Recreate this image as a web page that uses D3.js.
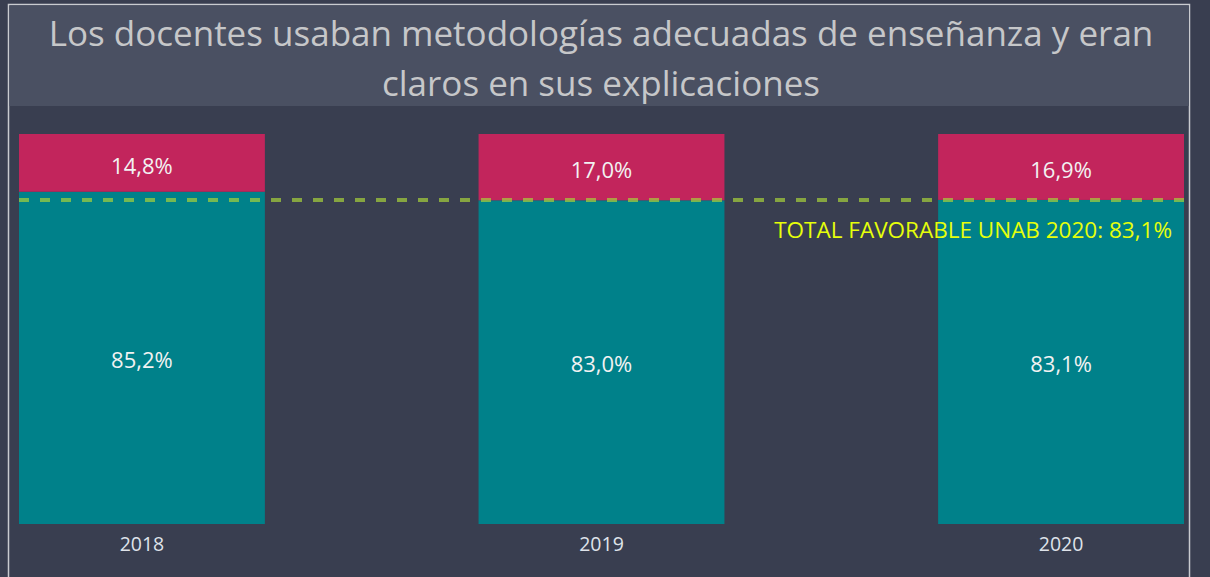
<!DOCTYPE html>
<html>
<head>
<meta charset="utf-8">
<script src="https://cdn.jsdelivr.net/npm/d3@7"></script>
<style>
  body { margin: 0; background: #393e50; overflow: hidden; }
  text { font-family: "Open Sans", "Noto Sans", sans-serif; }
</style>
</head>
<body>
<script>
var years = ["2018", "2019", "2020"];
var favorable = [85.2, 83.0, 83.1];
var desfavorable = [14.8, 17.0, 16.9];
var totalRef = 83.1;
var totalLabel = "TOTAL FAVORABLE UNAB 2020: 83,1%";
var titleLines = ["Los docentes usaban metodologías adecuadas de enseñanza y eran", "claros en sus explicaciones"];

var W = 1210, H = 577;
var svg = d3.select("body").append("svg")
	.attr("width", W)
	.attr("height", H);

// panel frame
svg.append("rect")
	.attr("x", 8.5).attr("y", 4.5)
	.attr("width", 1181).attr("height", 600)
	.attr("fill", "none")
	.attr("stroke", "#c9cbd0")
	.attr("stroke-width", 1.5);

// title band
svg.append("rect")
	.attr("x", 9.5).attr("y", 5.5)
	.attr("width", 1179.5).attr("height", 100.5)
	.attr("fill", "#4a5062");

svg.selectAll(".title").data(titleLines).enter().append("text")
	.attr("class", "title")
	.attr("x", 601)
	.attr("y", function(d, i) { return 46 + i * 50; })
	.attr("text-anchor", "middle")
	.attr("font-size", "35px")
	.attr("fill", "#c6c7c9")
	.text(function(d) { return d; });

var x = d3.scaleBand()
	.domain(years)
	.range([19, 1184])
	.paddingInner(0.465)
	.paddingOuter(0);

var y = d3.scaleLinear()
	.domain([0, 100])
	.range([524, 134]);

var fmt = function(v) { return v.toFixed(1).replace(".", ",") + "%"; };

var rows = years.map(function(yr, i) {
	return { year: yr, fav: favorable[i], des: desfavorable[i] };
});

// favorable (teal)
svg.selectAll(".fav").data(rows).enter().append("rect")
	.attr("class", "fav")
	.attr("x", function(d) { return x(d.year); })
	.attr("y", function(d) { return y(d.fav); })
	.attr("width", x.bandwidth())
	.attr("height", function(d) { return y(0) - y(d.fav); })
	.attr("fill", "#00818a");

// desfavorable (pink)
svg.selectAll(".des").data(rows).enter().append("rect")
	.attr("class", "des")
	.attr("x", function(d) { return x(d.year); })
	.attr("y", function(d) { return y(d.fav + d.des); })
	.attr("width", x.bandwidth())
	.attr("height", function(d) { return y(d.fav) - y(d.fav + d.des); })
	.attr("fill", "#c2255c");

svg.selectAll(".favLbl").data(rows).enter().append("text")
	.attr("x", function(d) { return x(d.year) + x.bandwidth() / 2; })
	.attr("y", function(d) { return (y(0) + y(d.fav)) / 2 + 10; })
	.attr("text-anchor", "middle")
	.attr("font-size", "22px")
	.attr("fill", "#f2f2f2")
	.text(function(d) { return fmt(d.fav); });

svg.selectAll(".desLbl").data(rows).enter().append("text")
	.attr("x", function(d) { return x(d.year) + x.bandwidth() / 2; })
	.attr("y", function(d) { return (y(d.fav) + y(d.fav + d.des)) / 2 + 11; })
	.attr("text-anchor", "middle")
	.attr("font-size", "22px")
	.attr("fill", "#f2f2f2")
	.text(function(d) { return fmt(d.des); });

// reference line
svg.append("line")
	.attr("x1", 19).attr("x2", 1184)
	.attr("y1", y(totalRef)).attr("y2", y(totalRef))
	.attr("stroke", "#a6d23a")
	.attr("stroke-opacity", 0.7)
	.attr("stroke-width", 4)
	.attr("stroke-dasharray", "10,11");

svg.append("text")
	.attr("x", 1172)
	.attr("y", y(totalRef) + 38)
	.attr("text-anchor", "end")
	.attr("font-size", "22.5px")
	.attr("fill", "#e6ff0a")
	.text(totalLabel);

// x axis
var xAxis = svg.append("g")
	.attr("transform", "translate(0,524)")
	.call(d3.axisBottom(x).tickSize(0).tickPadding(13));
xAxis.select(".domain").remove();
xAxis.selectAll("text")
	.attr("font-size", "19.5px")
	.attr("font-family", "'Open Sans', sans-serif")
	.attr("fill", "#dfe3ea");
</script>
</body>
</html>
